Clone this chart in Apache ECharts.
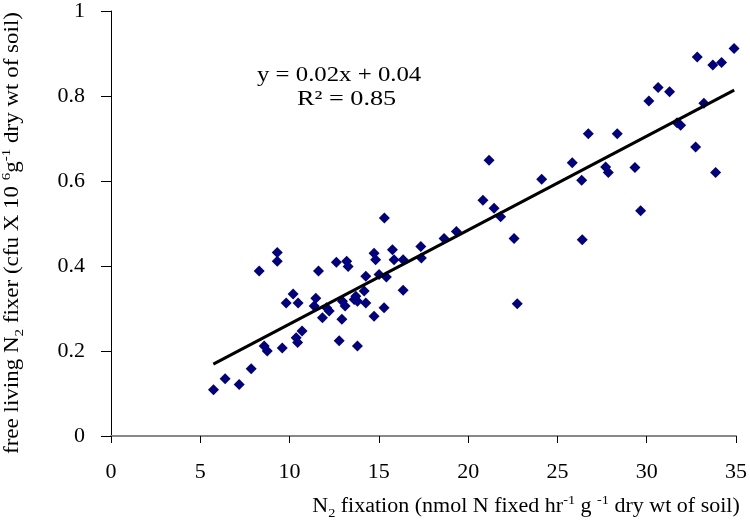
<!DOCTYPE html>
<html>
<head>
<meta charset="utf-8">
<script src="https://cdn.jsdelivr.net/npm/echarts@6/dist/echarts.min.js"></script>
<style>html,body{margin:0;padding:0;background:#fff;}#c{width:750px;height:520px;}</style>
</head>
<body>
<div id="c"></div>
<script>
// N2 fixation (x) values
var fixation = [5.74, 6.39, 7.18, 7.85, 8.30, 9.31, 9.31, 8.58, 8.75, 9.59,
  9.81, 10.2, 10.48, 10.37, 10.7, 10.45, 11.62, 11.47, 11.38, 12.07,
  12.22, 11.84, 12.93, 12.96, 13.11, 12.62, 13.2, 13.28, 12.78, 13.8,
  13.71, 13.8, 13.62, 14.27, 14.18, 14.27, 15.01, 15.42, 15.29, 14.73,
  14.73, 14.82, 15.31, 15.76, 15.85, 16.36, 16.36, 17.35, 17.38, 18.65,
  19.34, 20.83, 21.17, 21.45, 21.82, 22.57, 22.75, 24.12, 25.83, 26.36,
  26.39, 26.73, 27.7, 27.85, 28.35, 29.34, 29.66, 30.12, 30.64, 31.28,
  31.7, 31.9, 32.74, 32.83, 33.2, 33.7, 34.19, 33.86, 34.89];
// free living N2 fixer (y) values
var fixer = [0.109, 0.135, 0.121, 0.158, 0.388, 0.432, 0.411, 0.212, 0.200, 0.207,
  0.313, 0.334, 0.313, 0.231, 0.247, 0.220, 0.388, 0.324, 0.306, 0.302,
  0.294, 0.278, 0.275, 0.317, 0.306, 0.409, 0.411, 0.399, 0.224, 0.212,
  0.329, 0.317, 0.321, 0.313, 0.341, 0.376, 0.380, 0.374, 0.302, 0.282,
  0.430, 0.415, 0.513, 0.438, 0.415, 0.415, 0.343, 0.446, 0.419, 0.465,
  0.481, 0.555, 0.649, 0.536, 0.516, 0.465, 0.311, 0.604, 0.643, 0.602,
  0.462, 0.711, 0.633, 0.620, 0.711, 0.632, 0.530, 0.788, 0.820, 0.810,
  0.737, 0.731, 0.680, 0.892, 0.783, 0.873, 0.879, 0.620, 0.912];
// trend line (as drawn)
var trendSlope = 0.0221;
var trendIntercept = 0.0425;
var trendX = [5.73, 34.9];
var xTicks = [0, 5, 10, 15, 20, 25, 30, 35];
var yTicks = [0, 0.2, 0.4, 0.6, 0.8, 1];
var equationText = 'y = 0.02x + 0.04';
var r2Text = 'R\u00b2 = 0.85';

var pts = fixation.map(function (x, i) { return [x, fixer[i]]; });
var trend = trendX.map(function (x) { return [x, trendSlope * x + trendIntercept]; });

var serif = '"Liberation Serif", "Times New Roman", serif';
var rich = {
  n: { fontFamily: serif, fontSize: 20, color: '#000', lineHeight: 26 },
  sub: { fontFamily: serif, fontSize: 13, color: '#000', lineHeight: 13, verticalAlign: 'bottom' },
  sup: { fontFamily: serif, fontSize: 13, color: '#000', lineHeight: 13, verticalAlign: 'top' }
};

var chart = echarts.init(document.getElementById('c'), null, { renderer: 'canvas' });
chart.setOption({
  animation: false,
  backgroundColor: '#fff',
  grid: { left: 111, right: 13, top: 8, bottom: 84, containLabel: false },
  xAxis: {
    type: 'value', min: xTicks[0], max: xTicks[xTicks.length - 1], interval: 5,
    axisLine: { onZero: false, lineStyle: { color: '#888', width: 2 } },
    axisTick: { show: true, inside: false, length: 7, lineStyle: { color: '#000', width: 1 } },
    axisLabel: { margin: 25, fontFamily: serif, fontSize: 22, color: '#000' },
    splitLine: { show: false }
  },
  yAxis: {
    type: 'value', min: yTicks[0], max: yTicks[yTicks.length - 1], interval: 0.2,
    axisLine: { show: true, onZero: false, lineStyle: { color: '#000', width: 1 } },
    axisTick: { show: true, inside: false, length: 10, lineStyle: { color: '#000', width: 1 } },
    axisLabel: { margin: 26, fontFamily: serif, fontSize: 22, color: '#000',
      formatter: function (v) { return String(Math.round(v * 10) / 10); } },
    splitLine: { show: false }
  },
  series: [
    {
      type: 'scatter', data: pts, symbol: 'diamond', symbolSize: [11, 11],
      itemStyle: { color: '#000080', opacity: 1 }, z: 3
    },
    {
      type: 'line', data: trend, showSymbol: false, symbol: 'none',
      lineStyle: { color: '#000', width: 3 }, z: 4
    }
  ],
  graphic: [
    { type: 'text', x: 257, y: 65, scaleX: 1.18,
      style: { text: equationText, font: '21px ' + serif, fill: '#000', align: 'left', verticalAlign: 'top' } },
    { type: 'text', x: 297, y: 89, scaleX: 1.25,
      style: { text: r2Text, font: '21px ' + serif, fill: '#000', align: 'left', verticalAlign: 'top' } },
    { type: 'text', x: 526, y: 507, scaleX: 1.1,
      style: { text: '{n|N}{sub|2}{n| fixation (nmol N fixed hr}{sup|-1}{n| g }{sup|-1}{n| dry wt of soil)}',
        rich: rich, align: 'center', verticalAlign: 'middle' } },
    { type: 'text', x: 13, y: 233, rotation: Math.PI / 2, scaleX: 1.15,
      style: { text: '{n|free living N}{sub|2}{n| fixer (cfu X 10 }{sup|6}{n|g}{sup|-1}{n| dry wt of soil)}',
        rich: rich, align: 'center', verticalAlign: 'middle' } }
  ]
});
</script>
</body>
</html>
